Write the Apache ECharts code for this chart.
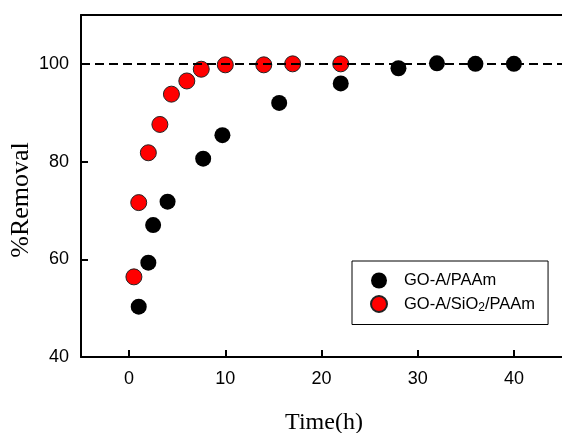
<!DOCTYPE html>
<html>
<head>
<meta charset="utf-8">
<script src="https://cdn.jsdelivr.net/npm/echarts@6/dist/echarts.min.js"></script>
<style>
  html, body { margin: 0; padding: 0; background: #fff; }
  #chart { width: 562px; height: 433px; }
</style>
</head>
<body>
<div id="chart"></div>
<script>
// GO-A/PAAm
const timeA = [1, 2, 2.5, 4, 7.7, 9.7, 15.6, 22, 28, 32, 36, 40];
const removalA = [50.3, 59.3, 67.0, 71.8, 80.6, 85.4, 92.0, 96.0, 99.1, 100.1, 100, 100];
// GO-A/SiO2/PAAm
const timeB = [0.5, 1, 2, 3.2, 4.4, 6, 7.5, 10, 14, 17, 22];
const removalB = [56.4, 71.6, 81.8, 87.6, 93.8, 96.5, 98.9, 99.8, 99.8, 100, 100];

const xTicks = [0, 10, 20, 30, 40];
const refLine = 100;

const nameA = 'GO-A/PAAm';
const nameB = 'GO-A/SiO2/PAAm';

const sans = '"Liberation Sans", Arial, sans-serif';
const serif = '"Liberation Serif", "Times New Roman", serif';

const chart = echarts.init(document.getElementById('chart'));

const option = {
  animation: false,
  grid: {
    left: 81,
    right: -4,
    top: 15,
    bottom: 76
  },
  xAxis: [
    {
      type: 'value',
      min: -5,
      max: 45,
      splitLine: { show: false },
      axisLine: { onZero: false, lineStyle: { color: '#000', width: 2 } },
      axisTick: {
        inside: true,
        length: 7,
        customValues: xTicks,
        lineStyle: { color: '#000', width: 2 }
      },
      axisLabel: {
        customValues: xTicks,
        margin: 13,
        color: '#000',
        fontSize: 18,
        fontFamily: sans
      }
    },
    {
      // top frame line only
      type: 'value',
      position: 'top',
      min: -5,
      max: 45,
      splitLine: { show: false },
      axisLine: { onZero: false, lineStyle: { color: '#000', width: 2 } },
      axisTick: { show: false },
      axisLabel: { show: false }
    }
  ],
  yAxis: {
    type: 'value',
    min: 40,
    max: 110,
    interval: 20,
    splitLine: { show: false },
    axisLine: { onZero: false, lineStyle: { color: '#000', width: 2 } },
    axisTick: {
      inside: true,
      length: 7,
      lineStyle: { color: '#000', width: 2 }
    },
    axisLabel: {
      margin: 12,
      showMaxLabel: false,
      color: '#000',
      fontSize: 18,
      fontFamily: sans
    }
  },
  legend: {
    data: [nameA, nameB],
    orient: 'vertical',
    left: 352,
    top: 261,
    padding: [11, 13, 11, 18],
    itemGap: 6,
    itemWidth: 16,
    itemHeight: 16,
    icon: 'circle',
    backgroundColor: '#fff',
    borderColor: '#000',
    borderWidth: 1,
    formatter: function (name) {
      if (name === nameB) {
        return '{a|GO-A/SiO}{sub|2}{a|/PAAm}';
      }
      return '{a|' + name + '}';
    },
    textStyle: {
      padding: [0, 0, 0, 12],
      rich: {
        a: { fontSize: 16.5, fontFamily: sans, color: '#000' },
        sub: { fontSize: 12, fontFamily: sans, color: '#000', padding: [7, 0, 0, 0] }
      }
    }
  },
  graphic: [
    {
      type: 'text',
      x: 21,
      y: 200,
      rotation: Math.PI / 2,
      style: {
        text: '%Removal',
        font: '26px ' + serif,
        fill: '#000',
        align: 'center',
        verticalAlign: 'middle'
      }
    },
    {
      type: 'text',
      x: 324,
      y: 423,
      style: {
        text: 'Time(h)',
        font: '24px ' + serif,
        fill: '#000',
        align: 'center',
        verticalAlign: 'middle'
      }
    }
  ],
  series: [
    {
      type: 'scatter',
      name: 'ref',
      data: [],
      z: 1,
      markLine: {
        silent: true,
        symbol: 'none',
        label: { show: false },
        lineStyle: { color: '#000', width: 2, type: [9, 5] },
        data: [{ yAxis: refLine }]
      }
    },
    {
      type: 'scatter',
      name: nameA,
      z: 3,
      symbolSize: 16,
      itemStyle: { color: '#000', opacity: 1 },
      data: timeA.map((t, i) => [t, removalA[i]])
    },
    {
      type: 'scatter',
      name: nameB,
      z: 4,
      symbolSize: 16,
      itemStyle: { color: '#ff0000', borderColor: '#222', borderWidth: 1, opacity: 1 },
      data: timeB.map((t, i) => [t, removalB[i]])
    }
  ]
};

chart.setOption(option);
</script>
</body>
</html>
